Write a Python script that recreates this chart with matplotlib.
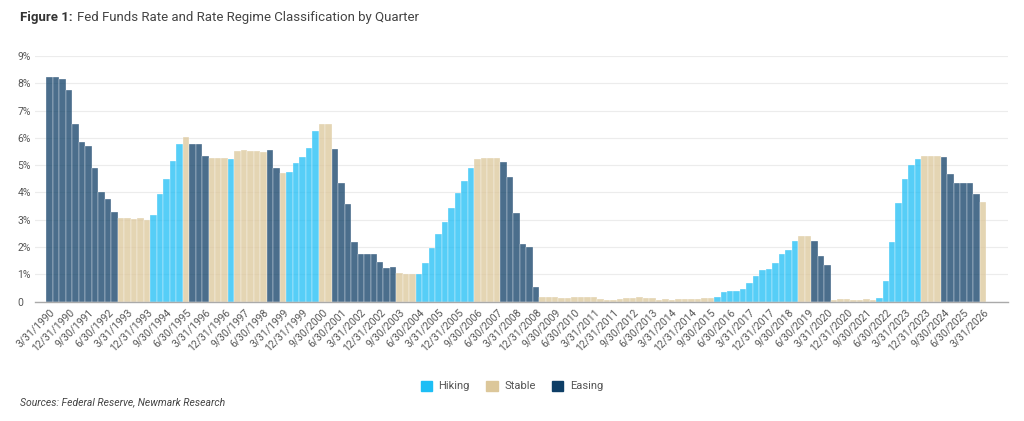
import numpy as np
import pandas as pd
import matplotlib
matplotlib.use("Agg")
import matplotlib.pyplot as plt
from matplotlib.patches import Patch

plt.rcParams['font.family'] = ['Roboto', 'DejaVu Sans']

# Quarterly fed funds rate (%), 1990Q1 - 2026Q1
rates = [
    8.24, 8.24, 8.16, 7.76, 6.50, 5.84, 5.70, 4.89, 4.03, 3.76, 3.29,
    3.06, 3.05, 3.03, 3.05, 3.01,
    3.17, 3.93, 4.48, 5.15, 5.78,
    6.02,
    5.78, 5.78, 5.35,
    5.25, 5.27, 5.27,
    5.24,
    5.52, 5.56, 5.53, 5.52, 5.47,
    5.56, 4.89,
    4.70,
    4.75, 5.07, 5.31, 5.62, 6.27,
    6.50, 6.50,
    5.58, 4.36, 3.57, 2.18, 1.74, 1.74, 1.74, 1.47, 1.22, 1.26,
    1.04, 1.02, 1.02,
    1.00, 1.43, 1.95, 2.47, 2.93, 3.44, 3.97, 4.43, 4.91,
    5.24, 5.25, 5.25, 5.25,
    5.11, 4.56, 3.26, 2.11, 1.99, 0.55,
    0.18, 0.18, 0.16, 0.12, 0.13, 0.19, 0.19, 0.19, 0.16, 0.09, 0.08, 0.07,
    0.10, 0.15, 0.14, 0.16, 0.14, 0.12, 0.08, 0.09, 0.07, 0.09, 0.09, 0.10,
    0.11, 0.13, 0.14,
    0.16, 0.37, 0.39, 0.40, 0.45, 0.67, 0.95, 1.15, 1.20, 1.43, 1.74, 1.89, 2.22,
    2.42, 2.42,
    2.22, 1.67, 1.34,
    0.06, 0.09, 0.09, 0.08, 0.07, 0.09, 0.08,
    0.12, 0.77, 2.17, 3.60, 4.48, 5.00, 5.23,
    5.33, 5.33, 5.33,
    5.30, 4.68, 4.33, 4.33, 4.33, 3.93,
    3.64,
]

# Regime runs: (regime, number of quarters)
regime_runs = [
    ("Easing", 11), ("Stable", 5), ("Hiking", 5), ("Stable", 1), ("Easing", 3),
    ("Stable", 3), ("Hiking", 1), ("Stable", 5), ("Easing", 2), ("Stable", 1),
    ("Hiking", 5), ("Stable", 2), ("Easing", 10), ("Stable", 3), ("Hiking", 9),
    ("Stable", 4), ("Easing", 6), ("Stable", 27), ("Hiking", 13), ("Stable", 2),
    ("Easing", 3), ("Stable", 7), ("Hiking", 7), ("Stable", 3), ("Easing", 6),
    ("Stable", 1),
]

regime_colors = {"Hiking": "#1dbef5", "Stable": "#dcc79a", "Easing": "#0e3e66"}

regimes = []
for name, n in regime_runs:
    regimes += [name] * n

quarters = pd.date_range("1990-03-31", periods=len(rates), freq="QE")
labels = [f"{d.month}/{d.day}/{d.year}" for d in quarters]

fig = plt.figure(figsize=(10.24, 4.21), dpi=100)
ax = fig.add_axes([0.034, 0.2834, 0.950, 0.5836])

x = np.arange(len(rates))
colors = [regime_colors[r] for r in regimes]
ax.bar(x, rates, width=1.0, color=colors, alpha=0.75, edgecolor="white", linewidth=0.3)

ax.set_xlim(-2.3, 147.8)
ax.set_ylim(0, 9)
ax.set_yticks(range(0, 10))
ax.set_yticklabels(["0"] + [f"{i}%" for i in range(1, 10)])
ax.tick_params(axis="y", length=0, pad=0, labelsize=7.5, labelcolor="#555555")
for t in ax.get_yticklabels():
    t.set_horizontalalignment("left")
    t.set_x(-0.018)

ax.set_xticks(x[::3])
ax.set_xticklabels(labels[::3], rotation=45, ha="right", rotation_mode="anchor",
                   fontsize=7.5, color="#555555")
ax.tick_params(axis="x", length=0, pad=4)

ax.grid(axis="y", color="#ececec", linewidth=0.8)
ax.set_axisbelow(True)
for s in ["top", "right", "left"]:
    ax.spines[s].set_visible(False)
ax.spines["bottom"].set_color("#aaaaaa")
ax.spines["bottom"].set_linewidth(1.0)

# title: bold prefix followed by regular text
t1 = fig.text(0.0195, 0.958, "Figure 1:", fontsize=9.5, fontweight="bold", color="#333333", va="center")
fig.canvas.draw()
bb = t1.get_window_extent()
x2 = (bb.x1 + 4) / fig.bbox.width
fig.text(x2, 0.958, "Fed Funds Rate and Rate Regime Classification by Quarter",
         fontsize=9.5, color="#444444", va="center")

handles = [Patch(color=regime_colors[k], label=k) for k in ["Hiking", "Stable", "Easing"]]
fig.legend(handles=handles, loc="center", bbox_to_anchor=(0.5, 0.083), ncol=3, frameon=False,
           fontsize=8, handlelength=1.0, handleheight=1.0, columnspacing=1.5, handletextpad=0.6,
           labelcolor="#555555")

fig.text(0.0195, 0.045, "Sources: Federal Reserve, Newmark Research", fontsize=7.5,
         style="italic", color="#444444", va="center")

fig.savefig("out.png", dpi=100)
